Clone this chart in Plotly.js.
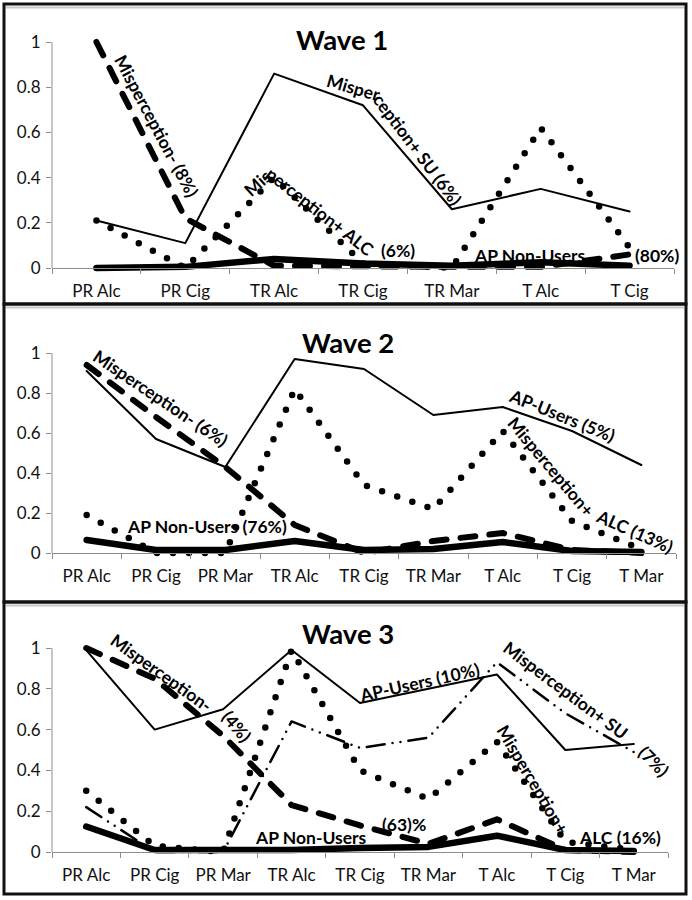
<!DOCTYPE html>
<html><head><meta charset="utf-8">
<script src="https://cdn.plot.ly/plotly-3.0.1.min.js"></script>
<style>
html,body{margin:0;padding:0;background:#fff;}
#chart{width:692px;height:900px;}
.js-line{stroke-linecap:round;stroke-linejoin:round;}
</style></head><body><div id="chart"></div>
<script>
// ---------- DATA ----------
const cats1 = ['PR Alc','PR Cig','TR Alc','TR Cig','TR Mar','T Alc','T Cig'];
const cats23 = ['PR Alc','PR Cig','PR Mar','TR Alc','TR Cig','TR Mar','T Alc','T Cig','T Mar'];

// Wave 1
const w1NonUsers = [0.0, 0.005, 0.04, 0.02, 0.01, 0.025, 0.01];
const w1MisNeg   = [1.0, 0.22, 0.01, 0.005, 0.005, 0.005, 0.06];
const w1MisAlc   = [0.21, 0.0, 0.40, 0.02, 0.0, 0.62, 0.09];
const w1MisSU    = [0.21, 0.11, 0.86, 0.72, 0.26, 0.35, 0.25];

// Wave 2
const w2NonUsers = [0.065, 0.015, 0.015, 0.06, 0.015, 0.02, 0.055, 0.01, 0.005];
const w2MisNeg   = [0.94, 0.68, 0.43, 0.14, 0.0, 0.06, 0.10, 0.015, 0.0];
const w2MisAlc   = [0.19, 0.0, 0.0, 0.82, 0.34, 0.22, 0.61, 0.16, 0.02];
const w2APUsers  = [0.91, 0.57, 0.43, 0.97, 0.92, 0.69, 0.73, 0.61, 0.44];

// Wave 3
const w3NonUsers = [0.125, 0.01, 0.01, 0.01, 0.02, 0.025, 0.08, 0.01, 0.005];
const w3MisNeg   = [1.0, 0.85, 0.57, 0.23, 0.13, 0.04, 0.16, 0.01, 0.0];
const w3MisAlc   = [0.30, 0.03, 0.0, 0.99, 0.40, 0.26, 0.54, 0.05, 0.01];
const w3MisSU    = [0.22, 0.0, 0.0, 0.64, 0.51, 0.56, 0.93, 0.68, 0.49];
const w3APUsers  = [0.99, 0.60, 0.70, 0.99, 0.73, 0.80, 0.87, 0.50, 0.53];

const yTickVals = [0, 0.2, 0.4, 0.6, 0.8, 1];
const yTickText = ['0', '0.2', '0.4', '0.6', '0.8', '1'];

// ---------- STYLES ----------
const W = 692, H = 900;
const FONT = 'Lato, "Open Sans", sans-serif';
const stThin   = {color:'#000', width:2};
const stThick  = {color:'#000', width:6.5};
const stDash   = {color:'#000', width:6, dash:'15px,14px'};
const stDot    = {color:'#000', width:6.5, dash:'0px,16px'};
const stDDD    = {color:'#000', width:2.5, dash:'18px,8px,0px,8px,0px,8px'};

const panels = [
  {left:52, right:674, y0:268, y1:42,  cats:cats1,  top:4,   bottom:304},
  {left:52, right:676, y0:553, y1:353, cats:cats23, top:304, bottom:602},
  {left:52, right:668, y0:852, y1:648, cats:cats23, top:602, bottom:894},
];
const PAD = 0.05;
const TICKFONT = {family: FONT, size: 17, color: '#111'};

const layout = {
  width: W, height: H,
  margin: {l:0, r:0, t:0, b:0},
  paper_bgcolor: '#fff', plot_bgcolor: 'rgba(0,0,0,0)',
  showlegend: false,
  font: {family: FONT, color:'#000'},
  shapes: [], annotations: []
};

panels.forEach((p, i) => {
  const sfx = i === 0 ? '' : String(i + 1);
  const s = p.y0 - p.y1;
  layout['xaxis' + sfx] = {
    domain: [p.left / W, p.right / W],
    anchor: 'free', position: 1 - p.y0 / H,
    type: 'category', categoryorder: 'array', categoryarray: p.cats,
    range: [-0.5, p.cats.length - 0.5],
    showline: true, linecolor: '#8c8c8c', linewidth: 1,
    ticks: 'outside', tickson: 'boundaries', ticklen: 5, tickcolor: '#8c8c8c',
    ticklabelstandoff: 8,
    showgrid: false, zeroline: false, fixedrange: true,
    tickfont: TICKFONT
  };
  layout['yaxis' + sfx] = {
    domain: [1 - (p.y0 + PAD * s) / H, 1 - (p.y1 - PAD * s) / H],
    range: [-PAD, 1 + PAD], anchor: 'x' + sfx,
    tickvals: yTickVals, ticktext: yTickText,
    ticks: 'outside', ticklen: 5, tickcolor: '#8c8c8c',
    ticklabelstandoff: 2,
    showline: false, showgrid: false, zeroline: false, fixedrange: true,
    tickfont: TICKFONT
  };
  layout.shapes.push({type:'line', xref:'x' + sfx + ' domain', x0:0, x1:0,
    yref:'y' + sfx, y0:0, y1:1, line:{color:'#8c8c8c', width:1}});
  layout.shapes.push({type:'line', xref:'paper', yref:'paper',
    x0: 6 / W, x1: 684 / W, y0: 1 - (p.top + 3.5) / H, y1: 1 - (p.top + 3.5) / H,
    line:{color:'#c8c8c8', width:2}});
  layout.shapes.push({type:'rect', xref:'paper', yref:'paper',
    x0: 4 / W, x1: 686 / W, y0: 1 - p.bottom / H, y1: 1 - p.top / H,
    line:{color:'#111', width:3}, fillcolor:'rgba(0,0,0,0)'});
});

function tr(x, y, line, ax) {
  return {type:'scatter', mode:'lines', x:x, y:y, line:line,
    xaxis:'x' + ax, yaxis:'y' + ax, hoverinfo:'skip', showlegend:false};
}

const data = [
  tr(cats1, w1NonUsers, stThick, ''),
  tr(cats1, w1MisNeg, stDash, ''),
  tr(cats1, w1MisAlc, stDot, ''),
  tr(cats1, w1MisSU, stThin, ''),

  tr(cats23, w2NonUsers, stThick, '2'),
  tr(cats23, w2MisNeg, stDash, '2'),
  tr(cats23, w2MisAlc, stDot, '2'),
  tr(cats23, w2APUsers, stThin, '2'),

  tr(cats23, w3NonUsers, stThick, '3'),
  tr(cats23, w3MisNeg, stDash, '3'),
  tr(cats23, w3MisAlc, stDot, '3'),
  tr(cats23, w3MisSU, stDDD, '3'),
  tr(cats23, w3APUsers, stThin, '3'),
];

function lab(text, x, y, angle, size) {
  return {text:'<b>' + text + '</b>', xref:'paper', yref:'paper',
    x: x / W, y: 1 - y / H, xanchor:'center', yanchor:'middle',
    textangle: angle || 0, showarrow:false,
    font:{family: FONT, size: size || 17.5, color:'#000'}};
}

layout.annotations.push(
  lab('Wave 1', 342, 40, 0, 27.5),
  lab('Misperception- (8%)', 157, 126, 62),
  lab('Misper', 353, 88, 16),
  lab('ception+ SU (6%)', 417, 150, 53),
  lab('Mis', 257, 183, -42),
  lab('perception+ ALC', 320, 211, 38),
  lab('(6%)', 398, 250, 0),
  lab('AP Non-Users', 530, 255, 0),
  lab('(80%)', 657, 255, 0),

  lab('Wave 2', 348, 342, 0, 27.5),
  lab('Misperception- (6%)', 161, 398, 34),
  lab('AP Non-Users (76%)', 207, 526, 0),
  lab('AP-Users (5%)', 562, 415, 22),
  lab('Misperception+', 551, 466, 50),
  lab('ALC (13%)', 635, 531, 24),

  lab('Wave 3', 348, 633, 0, 27.5),
  lab('Misperception-', 161, 672, 35.5),
  lab('(4%)', 237, 726, 50),
  lab('AP-Users (10%)', 419, 682, -12.6),
  lab('Misperception+ SU', 566, 690, 36.7),
  lab('(7%)', 654, 761, 45),
  lab('Misperception+', 533, 779, 59.5),
  lab('ALC (16%)', 620, 837, 0),
  lab('AP Non-Users', 311, 837, 0),
  lab('(63)%', 404, 824, 0)
);

Plotly.newPlot('chart', data, layout, {staticPlot:true, displayModeBar:false});
</script>
</body></html>
